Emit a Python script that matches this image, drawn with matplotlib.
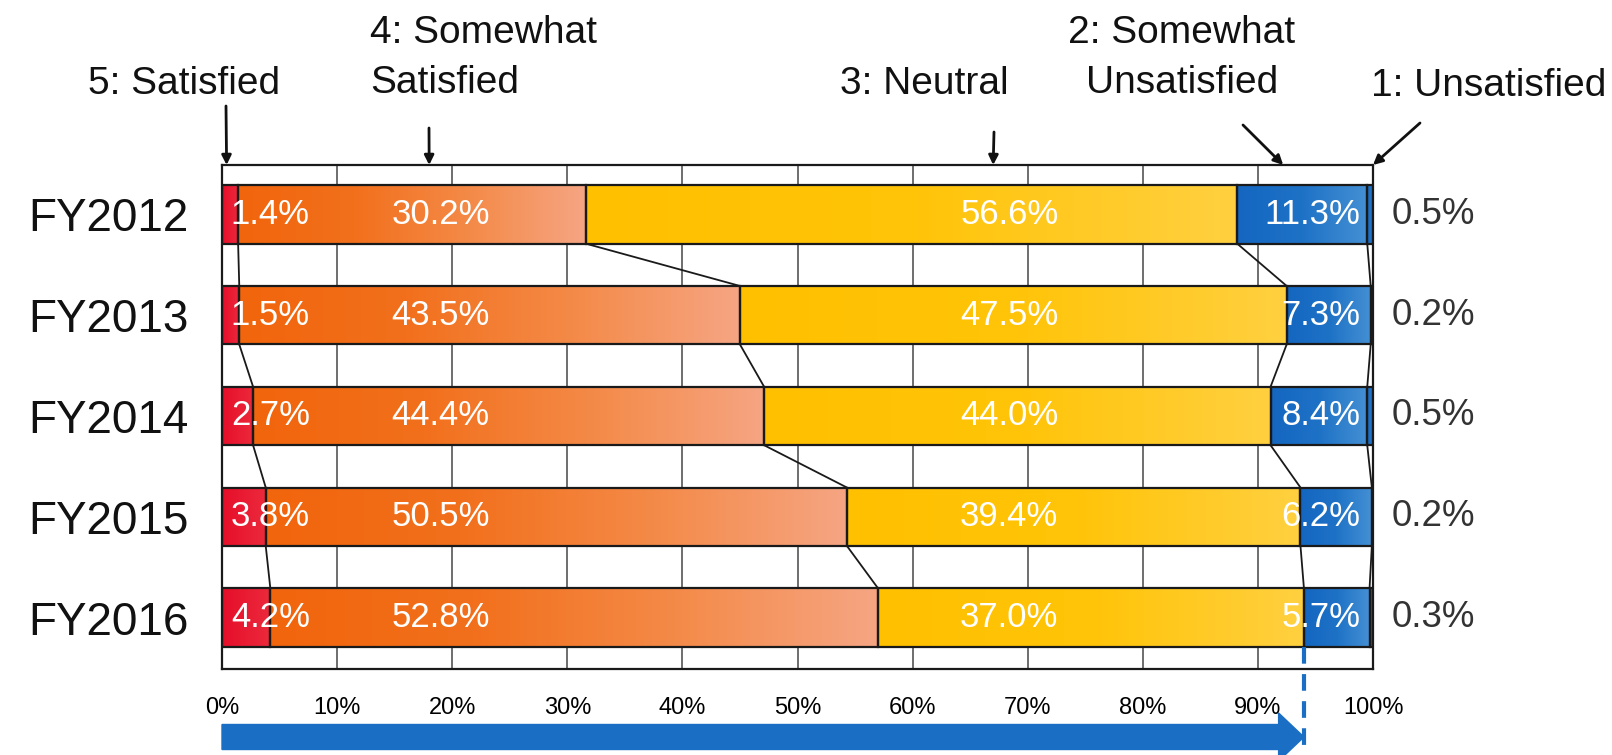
import numpy as np
import matplotlib

matplotlib.use("Agg")
import matplotlib.pyplot as plt
from matplotlib.colors import LinearSegmentedColormap
from matplotlib.patches import FancyArrow
from matplotlib.transforms import blended_transform_factory

plt.rcParams["font.family"] = ["Liberation Sans", "DejaVu Sans"]

# ---- data -------------------------------------------------------------
years = ["FY2012", "FY2013", "FY2014", "FY2015", "FY2016"]
satisfied = [1.4, 1.5, 2.7, 3.8, 4.2]
somewhat_satisfied = [30.2, 43.5, 44.4, 50.5, 52.8]
neutral = [56.6, 47.5, 44.0, 39.4, 37.0]
somewhat_unsatisfied = [11.3, 7.3, 8.4, 6.2, 5.7]
unsatisfied = [0.5, 0.2, 0.5, 0.2, 0.3]
xticks = [0, 10, 20, 30, 40, 50, 60, 70, 80, 90, 100]
category_labels = ["5: Satisfied", "4: Somewhat\nSatisfied", "3: Neutral",
                   "2: Somewhat\nUnsatisfied", "1: Unsatisfied"]

series = [satisfied, somewhat_satisfied, neutral, somewhat_unsatisfied, unsatisfied]
gradients = [
    ["#E60E2A", "#EC2A3C"],
    ["#F1650C", "#F2701C", "#F48A48", "#F6A583"],
    ["#FFC000", "#FFC408", "#FFD040"],
    ["#1466C0", "#1E72C6", "#4590D4"],
    ["#1466C0", "#2A7CCB"],
]

W, H = 1612, 755
fig = plt.figure(figsize=(W / 100, H / 100), dpi=100)
fig.patch.set_facecolor("white")
ax = fig.add_axes([222 / W, 1 - 669 / H, (1373 - 222) / W, (669 - 165) / H])

bar_h = 0.58
ypos = np.arange(len(years))
values = np.array(series)
cum = np.vstack([np.zeros(len(years)), np.cumsum(values, axis=0)])

for k, vals in enumerate(series):
    cmap = LinearSegmentedColormap.from_list(f"g{k}", gradients[k])
    grad = np.linspace(0, 1, 256).reshape(1, -1)
    for i in range(len(years)):
        left = cum[k][i]
        width = min(vals[i], 100 - left)
        if width <= 0:
            continue
        ax.imshow(grad, cmap=cmap, aspect="auto", zorder=2,
                  extent=(left, left + width, i + bar_h / 2, i - bar_h / 2),
                  interpolation="bicubic")
        ax.barh(i, width, left=left, height=bar_h, facecolor="none",
                edgecolor="#1a1a1a", linewidth=1.6, zorder=3)

# connector lines between consecutive bars
for k in range(1, 5):
    for i in range(len(years) - 1):
        ax.plot([min(cum[k][i], 100), min(cum[k][i + 1], 100)],
                [i + bar_h / 2, i + 1 - bar_h / 2],
                color="#1a1a1a", linewidth=1.3, zorder=1.5)

# labels inside / beside the bars
label_x = [4.2, 19.0, 68.4]
for i in range(len(years)):
    for k in range(3):
        ax.text(label_x[k], i, f"{series[k][i]:.1f}%", color="white",
                fontsize=25, ha="center", va="center", zorder=4)
    ax.text(98.9, i, f"{somewhat_unsatisfied[i]:.1f}%", color="white",
            fontsize=25, ha="right", va="center", zorder=4)
    ax.text(101.6, i, f"{unsatisfied[i]:.1f}%", color="#333333",
            fontsize=26.5, ha="left", va="center", clip_on=False)

ax.set_xlim(0, 100)
ax.set_ylim(len(years) - 0.49, -0.49)
ax.set_xticks(xticks)
ax.set_xticklabels([f"{t}%" for t in xticks], fontsize=17)
ax.set_yticks(ypos)
ax.set_yticklabels(years, fontsize=33, color="#111111")
ax.tick_params(axis="both", length=0)
ax.tick_params(axis="x", pad=20)
ax.tick_params(axis="y", pad=24)
ax.grid(axis="x", color="#555555", linewidth=1.2, zorder=0)
ax.set_axisbelow(True)
for sp in ax.spines.values():
    sp.set_color("#1a1a1a")
    sp.set_linewidth(1.6)

# category captions and pointer arrows
def figxy(px, py):
    return px / W, 1 - py / H

caption_pos = [(184, 84, "center"), (370, 58, "left"), (924, 84, "center"),
               (1182, 58, "center"), (1606, 86, "right")]
for (px, py, ha), txt in zip(caption_pos, category_labels):
    fig.text(*figxy(px, py), txt, fontsize=28, ha=ha, va="center",
             color="#111111", linespacing=1.5, multialignment="left" if ha == "left" else "center")

arrow_specs = [(0.4, (226, 106)), (18.0, (429, 128)), (67.0, (994, 132)),
               (92.2, (1243, 125)), (100.0, (1420, 123))]
for xd, (px, py) in arrow_specs:
    ax.annotate("", xy=(xd, -0.49), xycoords="data",
                xytext=figxy(px, py), textcoords="figure fraction",
                arrowprops=dict(arrowstyle="-|>", color="#111111", lw=2,
                                mutation_scale=14, shrinkA=0, shrinkB=0),
                annotation_clip=False)

# blue progress arrow and dashed marker at the FY2016 boundary
marker_x = cum[3][-1]
trans = blended_transform_factory(ax.transData, fig.transFigure)
ax.add_patch(FancyArrow(0, (H - 737) / H, marker_x, 0, width=25 / H,
                        head_width=48 / H, head_length=2.2,
                        length_includes_head=True, color="#1A6FC4",
                        transform=trans, clip_on=False, zorder=5))
ax.plot([marker_x, marker_x], [len(years) - 1 + bar_h / 2, len(years) + 0.5],
        color="#1A6FC4", linewidth=3, linestyle=(0, (4, 2.5)),
        clip_on=False, zorder=5)

fig.savefig("out.png", dpi=100, facecolor="white")
